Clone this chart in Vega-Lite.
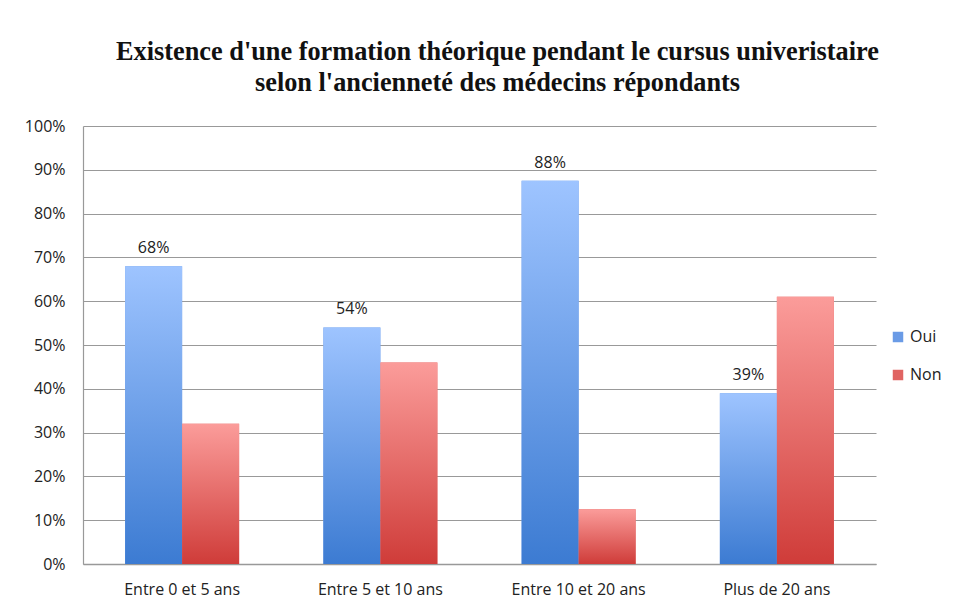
{
  "$schema": "https://vega.github.io/schema/vega-lite/v6.json",
  "autosize": {"type": "none"},
  "width": 793,
  "height": 438,
  "padding": {"left": 83, "top": 126, "right": 95, "bottom": 42},
  "background": "white",
  "config": {
    "view": {"stroke": null},
    "font": "Open Sans",
    "axisX": {"labelFont": "Open Sans", "labelFontSize": 16, "labelColor": "#222"},
    "axisY": {"labelFont": "Open Sans", "labelFontSize": 16, "labelColor": "#222"}
  },
  "title": {
    "text": ["Existence d'une formation théorique pendant le cursus univeristaire", "selon l'ancienneté des médecins répondants"],
    "font": "Liberation Serif",
    "fontSize": 26.3,
    "fontWeight": "bold",
    "color": "#111",
    "anchor": "middle",
    "dx": 18,
    "offset": 22,
    "lineHeight": 31
  },
  "data": {
    "values": [
      {"cat": "Entre 0 et 5 ans", "serie": "Oui", "v": 0.68},
      {"cat": "Entre 0 et 5 ans", "serie": "Non", "v": 0.32},
      {"cat": "Entre 5 et 10 ans", "serie": "Oui", "v": 0.54},
      {"cat": "Entre 5 et 10 ans", "serie": "Non", "v": 0.46},
      {"cat": "Entre 10 et 20 ans", "serie": "Oui", "v": 0.875},
      {"cat": "Entre 10 et 20 ans", "serie": "Non", "v": 0.125},
      {"cat": "Plus de 20 ans", "serie": "Oui", "v": 0.39},
      {"cat": "Plus de 20 ans", "serie": "Non", "v": 0.61}
    ]
  },
  "encoding": {
    "x": {
      "field": "cat", "type": "nominal", "sort": null,
      "scale": {"paddingInner": 0.425, "paddingOuter": 0.2125},
      "axis": {"title": null, "labelAngle": 0, "ticks": false, "labelPadding": 17, "labelFontSize": 16, "domainColor": "#999", "domainWidth": 1.5}
    },
    "xOffset": {"field": "serie", "type": "nominal", "scale": {"domain": ["Oui", "Non"], "paddingInner": 0}},
    "y": {
      "field": "v", "type": "quantitative",
      "scale": {"domain": [0, 1], "nice": false},
      "axis": {"title": null, "format": ".0%", "values": [0, 0.1, 0.2, 0.3, 0.4, 0.5, 0.6, 0.7, 0.8, 0.9, 1], "labelOverlap": false, "ticks": false, "labelPadding": 18, "labelFontSize": 16, "gridColor": "#999", "gridWidth": 1.2, "domainColor": "#999", "domainWidth": 1.2}
    }
  },
  "layer": [
    {
      "mark": {"type": "bar"},
      "encoding": {
        "color": {
          "field": "serie", "type": "nominal",
          "scale": {"domain": ["Oui", "Non"], "range": ["#6a9be6", "#e06462"]},
          "legend": {"title": null, "orient": "none", "legendX": 807, "legendY": 203, "symbolType": "square", "symbolSize": 110, "labelFontSize": 16, "labelFont": "Open Sans", "labelColor": "#222", "rowPadding": 22, "symbolStrokeWidth": 0}
        }
      }
    },
    {
      "mark": {
        "type": "bar",
        "fill": {"gradient": "linear", "x1": 0, "y1": 0, "x2": 0, "y2": 1, "stops": [{"offset": 0, "color": "#9ec4ff"}, {"offset": 1, "color": "#3c7bd2"}]}
      },
      "transform": [{"filter": "datum.serie === 'Oui'"}]
    },
    {
      "mark": {
        "type": "bar",
        "fill": {"gradient": "linear", "x1": 0, "y1": 0, "x2": 0, "y2": 1, "stops": [{"offset": 0, "color": "#fb9c9a"}, {"offset": 1, "color": "#cf3c39"}]}
      },
      "transform": [{"filter": "datum.serie === 'Non'"}]
    },
    {
      "mark": {"type": "text", "baseline": "bottom", "dy": -10, "fontSize": 16, "font": "Open Sans", "color": "#222"},
      "transform": [{"filter": "datum.serie === 'Oui'"}],
      "encoding": {"text": {"field": "v", "type": "quantitative", "format": ".0%"}}
    }
  ]
}
